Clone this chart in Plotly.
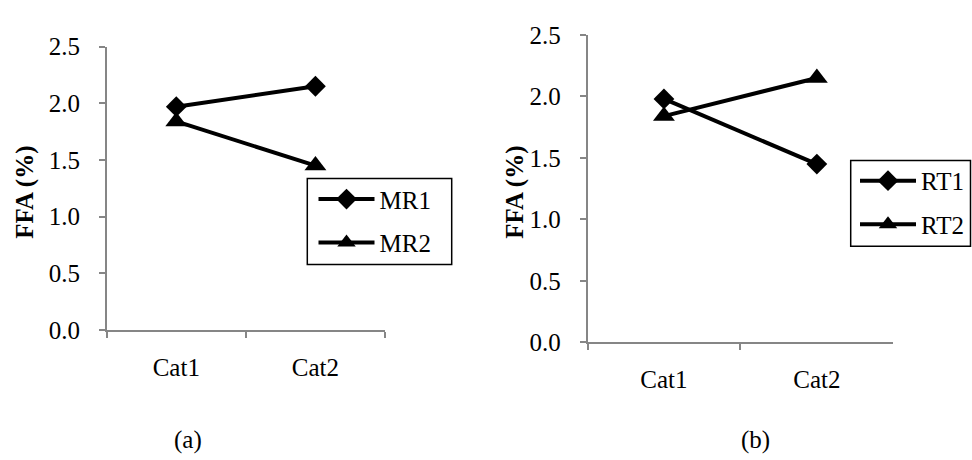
import plotly.graph_objects as go

categories = ["Cat1", "Cat2"]
mr1 = [1.97, 2.15]
mr2 = [1.84, 1.45]
rt1 = [1.98, 1.45]
rt2 = [1.84, 2.15]
y_ticks = [0.0, 0.5, 1.0, 1.5, 2.0, 2.5]

W, H = 972, 460
FONT = "Liberation Serif"
FS = 25

def px_x(x):
    return x / W

def px_y(y):
    return 1 - y / H

fig = go.Figure()

line = dict(color="black", width=4)
mk_d = dict(symbol="diamond", size=16, color="black")
mk_t = dict(symbol="triangle-up", size=19, color="black")
fig.add_trace(go.Scatter(x=categories, y=mr1, name="MR1", mode="lines+markers",
                         line=line, marker=mk_d, xaxis="x", yaxis="y",
                         legend="legend", legendgroup="a1"))
fig.add_trace(go.Scatter(x=categories, y=mr2, name="MR2", mode="lines+markers",
                         line=line, marker=mk_t, xaxis="x", yaxis="y",
                         legend="legend", legendgroup="a2"))
fig.add_trace(go.Scatter(x=categories, y=rt1, name="RT1", mode="lines+markers",
                         line=line, marker=mk_d, xaxis="x2", yaxis="y2",
                         legend="legend2", legendgroup="b1"))
fig.add_trace(go.Scatter(x=categories, y=rt2, name="RT2", mode="lines+markers",
                         line=line, marker=mk_t, xaxis="x2", yaxis="y2",
                         legend="legend2", legendgroup="b2"))

axcol = "#868686"
tf = dict(family=FONT, size=FS, color="black")
xcommon = dict(type="category", range=[-0.5, 1.5], tickson="boundaries", showline=True,
               linecolor=axcol, linewidth=1.5, ticks="outside", ticklen=6, tickcolor=axcol,
               tickwidth=1.5, showgrid=False, zeroline=False, tickfont=tf,
               ticklabelstandoff=14, fixedrange=True)
ycommon = dict(range=[0, 2.5], tickvals=y_ticks, tickformat=".1f", showline=True,
               linecolor=axcol, linewidth=1.5, ticks="outside", ticklen=6, tickcolor=axcol,
               tickwidth=1.5, showgrid=False, zeroline=False, tickfont=tf,
               ticklabelstandoff=14, fixedrange=True)

leg_common = dict(xanchor="left", yanchor="top", borderwidth=0,
                  bgcolor="rgba(0,0,0,0)", font=tf, itemwidth=56, traceorder="grouped",
                  tracegroupgap=8)

fig.update_layout(
    width=W, height=H,
    margin=dict(l=0, r=0, t=0, b=0),
    paper_bgcolor="white", plot_bgcolor="white",
    font=dict(family=FONT),
    xaxis=dict(domain=[px_x(106.7), px_x(385)], anchor="y", **xcommon),
    yaxis=dict(domain=[px_y(336.7), px_y(35.7)], anchor="x", **ycommon),
    xaxis2=dict(domain=[px_x(587.5), px_x(893.3)], anchor="y2", **xcommon),
    yaxis2=dict(domain=[px_y(350), px_y(23.3)], anchor="x2", **ycommon),
    legend=dict(x=px_x(313.5), y=px_y(173.5), **leg_common),
    legend2=dict(x=px_x(855), y=px_y(154), **leg_common),
    showlegend=True,
)

# legend frames
for (x0, y0, x1, y1) in [(307.3, 175.7, 451.7, 267.3), (850.7, 156.7, 970.5, 247.7)]:
    fig.add_shape(type="rect", xref="paper", yref="paper",
                  x0=px_x(x0), x1=px_x(x1), y0=px_y(y1), y1=px_y(y0),
                  line=dict(color="black", width=1.5), fillcolor="white", layer="above")

annos = [
    dict(text="<b>FFA (%)</b>", x=px_x(25), y=px_y(191), textangle=-90),
    dict(text="<b>FFA (%)</b>", x=px_x(515), y=px_y(191), textangle=-90),
    dict(text="(a)", x=px_x(188), y=px_y(454)),
    dict(text="(b)", x=px_x(755.5), y=px_y(454)),
]
for a in annos:
    fig.add_annotation(xref="paper", yref="paper", showarrow=False,
                       xanchor="center", yanchor="middle", font=tf, **a)

fig.write_html("out.html")
